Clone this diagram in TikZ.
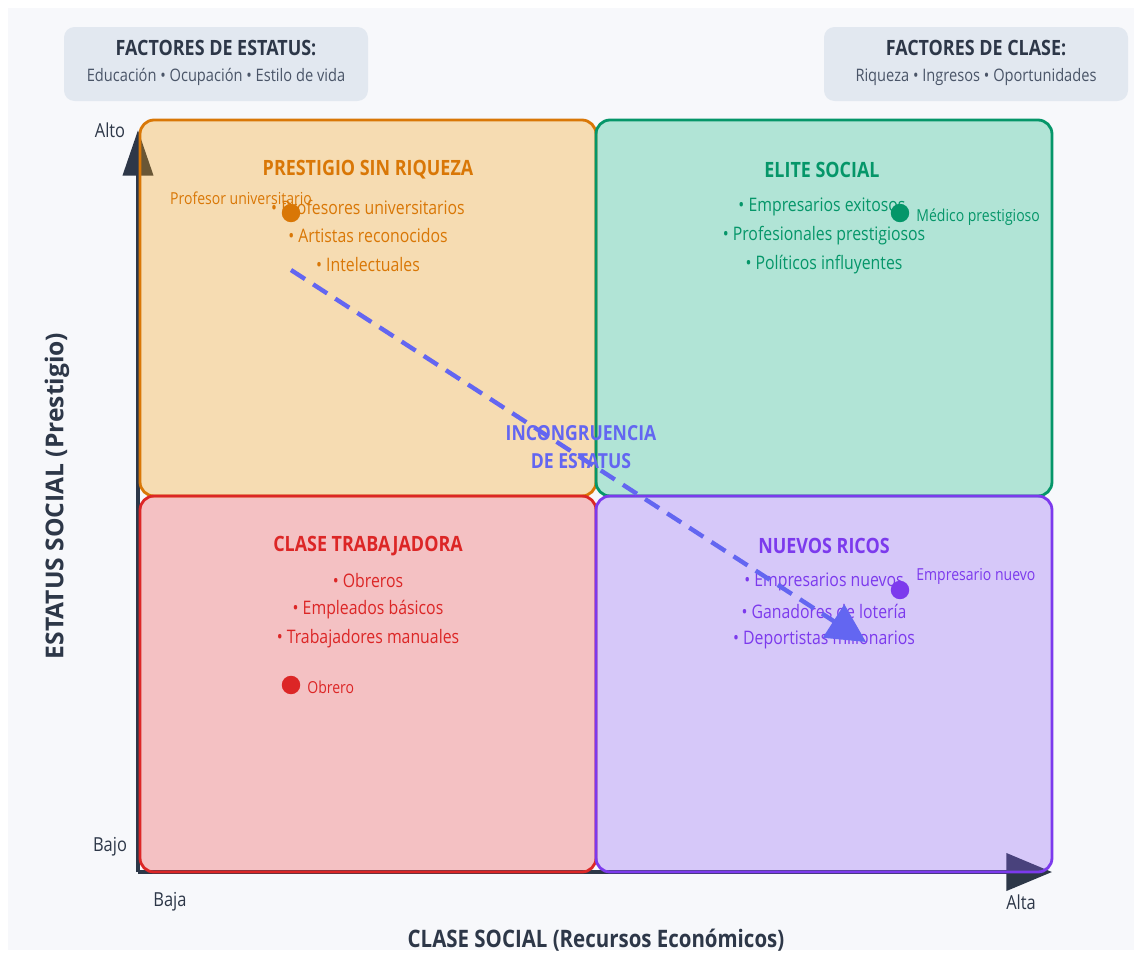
\documentclass[tikz,border=0pt]{standalone}
\usepackage{fontspec}
\setmainfont{Open Sans}[FakeStretch=0.85]
\newfontfamily\plainfont{Open Sans}
\usetikzlibrary{arrows.meta}
\definecolor{bgc}{HTML}{F7F8FB}
\definecolor{hdr}{HTML}{E2E8F0}
\definecolor{dark}{HTML}{2D3748}
\definecolor{grayt}{HTML}{4A5568}
\definecolor{orf}{HTML}{F59E0B}\definecolor{orb}{HTML}{D97706}
\definecolor{grf}{HTML}{10B981}\definecolor{grb}{HTML}{059669}
\definecolor{rdf}{HTML}{EF4444}\definecolor{rdb}{HTML}{DC2626}
\definecolor{puf}{HTML}{8B5CF6}\definecolor{pub}{HTML}{7C3AED}
\definecolor{ind}{HTML}{6366F1}
\tikzset{
  hbox/.style={fill=hdr,rounded corners=6pt,draw=none},
  htitle/.style={font=\bfseries\fontsize{12}{14}\selectfont,text=dark},
  hsub/.style={font=\fontsize{9.8}{11}\selectfont,text=grayt},
  quad/.style={fill opacity=0.3,line width=1.6pt,rounded corners=8pt},
  qtitle/.style={font=\bfseries\fontsize{12}{14}\selectfont},
  qitem/.style={font=\fontsize{10.6}{12}\selectfont},
  dot/.style={circle,inner sep=0pt,minimum size=10.5pt},
  dlabel/.style={font=\fontsize{9.4}{11}\selectfont,inner sep=0pt},
  axlab/.style={font=\fontsize{11}{12}\selectfont,text=dark},
  axtitle/.style={font=\bfseries\fontsize{13.7}{16}\selectfont,text=dark},
}
\begin{document}
\begin{tikzpicture}[x=0.02cm,y=-0.02cm]
\fill[white] (0,0) rectangle (1142,957);
\fill[bgc] (8,8) rectangle (1134,950);
\useasboundingbox (0,0) rectangle (1142,957);
% headers
\fill[hbox] (64,27) rectangle (368,101);
\node[htitle] (ht1) at (216,48) {FACTORES DE ESTATUS:};
\node[hsub] (hs1) at (216,77) {Educación • Ocupación • Estilo de vida};
\fill[hbox] (824,27) rectangle (1128,101);
\node[htitle] (ht2) at (976,48) {FACTORES DE CLASE:};
\node[hsub] (hs2) at (976,77) {Riqueza • Ingresos • Oportunidades};
% axes
\coordinate (o) at (138,872);
\coordinate (ytop) at (138,130);
\coordinate (xend) at (1052,872);
\draw[dark,line width=2.5pt,-{Triangle[length=26pt,width=17pt]}] (o) -- (ytop);
\draw[dark,line width=2.5pt,-{Triangle[length=26pt,width=21pt]}] (o) -- (xend);
% quadrants
\draw[quad,fill=orf,draw=orb] (140,120) rectangle (596,496);
\draw[quad,fill=grf,draw=grb] (596,120) rectangle (1052,496);
\draw[quad,fill=rdf,draw=rdb] (140,496) rectangle (596,872);
\draw[quad,fill=puf,draw=pub] (596,496) rectangle (1052,872);
% quadrant texts
\node[qtitle,text=orb] (t1) at (368,170) {PRESTIGIO SIN RIQUEZA};
\node[qitem,text=orb] (a1) at (368,207) {• Profesores universitarios};
\node[qitem,text=orb] (a2) at (368,236) {• Artistas reconocidos};
\node[qitem,text=orb] (a3) at (368,265) {• Intelectuales};
\node[qtitle,text=grb] (t2) at (822,170) {ELITE SOCIAL};
\node[qitem,text=grb] (b1) at (822,207) {• Empresarios exitosos};
\node[qitem,text=grb] (b2) at (824,236) {• Profesionales prestigiosos};
\node[qitem,text=grb] (b3) at (824,265) {• Políticos influyentes};
\node[qtitle,text=rdb] (t3) at (368,546) {CLASE TRABAJADORA};
\node[qitem,text=rdb] (c1) at (368,581) {• Obreros};
\node[qitem,text=rdb] (c2) at (368,610) {• Empleados básicos};
\node[qitem,text=rdb] (c3) at (368,639) {• Trabajadores manuales};
\node[qtitle,text=pub] (t4) at (824,546) {NUEVOS RICOS};
\node[qitem,text=pub] (d1) at (824,582) {• Empresarios nuevos};
\node[qitem,text=pub] (d2) at (824,611) {• Ganadores de lotería};
\node[qitem,text=pub] (d3) at (824,640) {• Deportistas millonarios};
% dots
\node[dot,fill=orb] (p1) at (291,213) {};
\node[dlabel,text=orb] (l1) at (241,198) {Profesor universitario};
\node[dot,fill=grb] (p2) at (900,213) {};
\node[dlabel,text=grb,anchor=west] (l2) at (916,217) {Médico prestigioso};
\node[dot,fill=rdb] (p3) at (291,685) {};
\node[dlabel,text=rdb,anchor=west] (l3) at (307,687) {Obrero};
\node[dot,fill=pub] (p4) at (900,590) {};
\node[dlabel,text=pub,anchor=west] (l4) at (916,576) {Empresario nuevo};
% incongruence arrow
\coordinate (s) at (291,270);
\coordinate (e) at (866,642);
\draw[ind,line width=2.5pt,dash pattern=on 9.5pt off 5.5pt,-{Triangle[length=22pt,width=22pt]}] (s) -- (e);
\node[font=\bfseries\fontsize{11.8}{16.4}\selectfont,text=ind,align=center] (inc) at (581,447) {INCONGRUENCIA\\DE ESTATUS};
% axis labels
\node[axlab] (alto) at (110,130) {Alto};
\node[axlab] (bajo) at (110,847) {Bajo};
\node[axlab] (baja) at (170,902) {Baja};
\node[axlab] (alta) at (1021,902) {Alta};
\node[axtitle] (xt) at (596,940) {CLASE SOCIAL (Recursos Económicos)};
\node[font=\plainfont\bfseries\fontsize{14}{16}\selectfont,text=dark,rotate=90] (yt) at (57,496) {ESTATUS SOCIAL (Prestigio)};
\end{tikzpicture}
\end{document}
